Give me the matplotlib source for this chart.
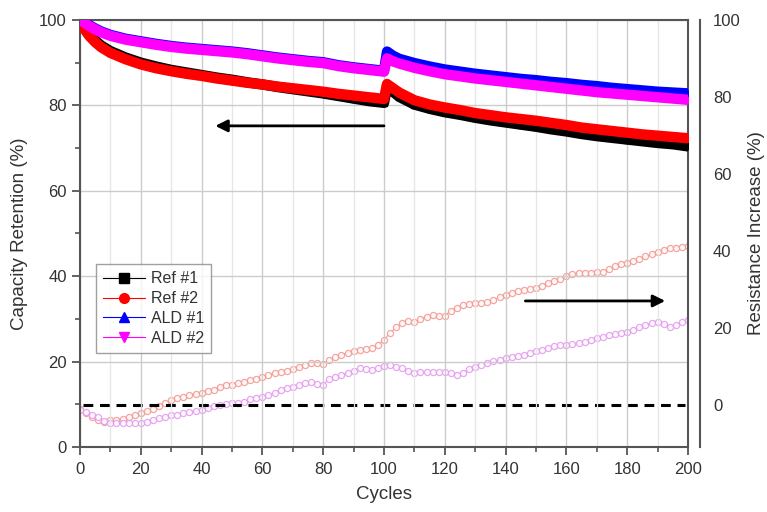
import matplotlib
matplotlib.use("Agg")
import matplotlib.pyplot as plt
from matplotlib.lines import Line2D
from matplotlib.ticker import MultipleLocator

plt.rcParams['font.family'] = ['Liberation Sans', 'DejaVu Sans']

# ---- capacity retention (left axis) ----
cap_cycles = [0, 1, 2, 3, 5, 7, 10, 15, 20, 25, 30, 35, 40, 45, 50, 55, 60, 65, 70,
              75, 80, 85, 90, 95, 100, 101, 103, 105, 110, 115, 120, 125, 130, 135,
              140, 145, 150, 155, 160, 165, 170, 175, 180, 185, 190, 195, 200]

ref1_cap = [100, 98.7, 97.6, 96.7, 95.2, 94.0, 92.7, 91.2, 90.0, 89.1, 88.3, 87.7,
            87.1, 86.5, 86.0, 85.4, 84.9, 84.3, 83.8, 83.3, 82.8, 82.2, 81.6, 81.0,
            80.6, 84.4, 83.2, 82.0, 80.2, 79.2, 78.4, 77.8, 77.1, 76.5, 76.0, 75.5,
            75.0, 74.4, 73.9, 73.3, 72.8, 72.4, 72.0, 71.6, 71.2, 70.9, 70.4]

ref2_cap = [100, 98.5, 97.3, 96.3, 94.8, 93.6, 92.3, 90.8, 89.6, 88.7, 88.0, 87.4,
            86.9, 86.3, 85.8, 85.3, 84.9, 84.4, 84.0, 83.6, 83.2, 82.7, 82.3, 81.9,
            81.5, 85.0, 84.0, 83.0, 81.2, 80.2, 79.5, 78.9, 78.2, 77.7, 77.2, 76.8,
            76.4, 75.9, 75.4, 74.8, 74.4, 74.0, 73.6, 73.2, 72.9, 72.6, 72.3]

ald1_cap = [100, 99.8, 99.3, 98.8, 98.0, 97.3, 96.5, 95.6, 95.0, 94.4, 93.9, 93.5,
            93.2, 92.9, 92.6, 92.2, 91.7, 91.2, 90.8, 90.4, 90.1, 89.4, 88.9, 88.5,
            88.1, 92.6, 91.6, 90.9, 89.9, 89.1, 88.4, 87.9, 87.4, 87.0, 86.6, 86.2,
            85.9, 85.5, 85.2, 84.8, 84.5, 84.1, 83.8, 83.5, 83.2, 83.0, 82.8]

ald2_cap = [100, 99.6, 99.1, 98.6, 97.8, 97.1, 96.3, 95.4, 94.8, 94.2, 93.7, 93.3,
            93.0, 92.7, 92.4, 92.0, 91.5, 91.0, 90.6, 90.2, 89.9, 89.2, 88.7, 88.3,
            87.9, 91.0, 90.3, 89.8, 88.8, 88.0, 87.3, 86.8, 86.3, 85.9, 85.5, 85.1,
            84.7, 84.3, 83.9, 83.5, 83.1, 82.8, 82.5, 82.2, 81.9, 81.6, 81.3]

# ---- resistance increase (right axis), every 2 cycles ----
res_cycles = list(range(0, 201, 2))

ref2_res = [-1.0, -2.0, -3.0, -4.0, -4.4, -4.0, -3.8, -3.6, -3.2, -2.6,
            -2.2, -1.6, -1.0, -0.2, 0.6, 1.2, 1.8, 2.2, 2.7, 2.9,
            3.1, 3.6, 4.0, 4.7, 5.2, 5.3, 5.6, 6.1, 6.5, 6.8,
            7.2, 7.8, 8.3, 8.5, 8.8, 9.4, 9.9, 10.5, 11.0, 10.8,
            10.6, 11.6, 12.4, 13.0, 13.6, 14.0, 14.3, 14.5, 14.8, 15.6,
            17.0, 18.7, 20.2, 21.4, 21.8, 21.6, 22.4, 22.9, 23.3, 23.0,
            23.2, 24.5, 25.3, 25.9, 26.2, 26.6, 26.5, 26.8, 27.2, 28.0,
            28.7, 29.2, 29.5, 29.8, 30.0, 30.5, 31.0, 31.7, 32.3, 32.8,
            33.4, 33.9, 34.2, 34.4, 34.4, 34.5, 34.6, 35.3, 36.1, 36.6,
            37.0, 37.4, 38.0, 38.6, 39.1, 39.7, 40.3, 40.8, 40.9, 41.0,
            41.2]

ald2_res = [-1.3, -1.8, -2.5, -3.2, -4.2, -4.7, -4.8, -4.7, -4.8, -4.7,
            -4.7, -4.4, -3.9, -3.5, -3.1, -2.7, -2.5, -2.2, -1.8, -1.5,
            -1.3, -0.8, -0.2, 0.0, 0.2, 0.4, 0.5, 0.8, 1.6, 1.9,
            2.2, 2.6, 3.0, 3.8, 4.4, 4.8, 5.2, 5.6, 6.0, 5.5,
            5.3, 6.8, 7.4, 7.8, 8.3, 8.9, 9.6, 9.3, 9.1, 9.6,
            10.2, 10.3, 10.0, 9.5, 8.8, 8.3, 8.6, 8.5, 8.6, 8.6,
            8.6, 8.4, 7.9, 8.4, 9.3, 9.8, 10.4, 10.9, 11.3, 11.8,
            12.2, 12.5, 12.8, 13.0, 13.5, 14.0, 14.4, 14.8, 15.2, 15.5,
            15.6, 15.8, 16.0, 16.3, 16.8, 17.3, 17.7, 18.1, 18.5, 18.8,
            19.0, 19.6, 20.3, 20.8, 21.2, 21.6, 21.0, 20.2, 20.8, 21.5,
            22.0]

legend_labels = ['Ref #1', 'Ref #2', 'ALD #1', 'ALD #2']
series_colors = ['black', '#ff0000', '#0000ff', '#ff00ff']
series_markers = ['s', 'o', '^', 'v']

text_color = '#333333'
spine_color = '#555555'

fig = plt.figure(figsize=(7.67, 5.12), dpi=100)
ax = fig.add_axes([0.1043, 0.127, 0.7927, 0.834])
ax2 = ax.twinx()

# resistance curves behind the capacity bands
ax2.plot(res_cycles, ref2_res, color='#f59a92', marker='o', ms=4.4,
         mfc='white', mec='#f59a92', mew=0.9, lw=0.8, alpha=0.9, zorder=2)
ax2.plot(res_cycles, ald2_res, color='#e59cf0', marker='o', ms=4.4,
         mfc='white', mec='#e59cf0', mew=0.9, lw=0.8, alpha=0.9, zorder=2)
ax2.axhline(0, xmin=0.005, xmax=0.995, color='black', lw=2.2,
            ls=(0, (3.2, 2.2)), zorder=3)

cap_series = [ref1_cap, ref2_cap, ald1_cap, ald2_cap]
ax.set_zorder(ax2.get_zorder() + 1)
ax.patch.set_visible(False)
for vals, col, mk in zip(cap_series, series_colors, series_markers):
    ax.plot(cap_cycles, vals, color=col, lw=7.5, marker=mk, ms=5,
            solid_capstyle='round', solid_joinstyle='round', zorder=4)

# arrows pointing to the axis each set of curves belongs to
ax.annotate('', xy=(44.5, 75.2), xytext=(100, 75.2),
            arrowprops=dict(arrowstyle='-|>', color='black', lw=2,
                            mutation_scale=18, shrinkA=0, shrinkB=0))
ax.annotate('', xy=(192.5, 34.2), xytext=(146.5, 34.2),
            arrowprops=dict(arrowstyle='-|>', color='black', lw=2,
                            mutation_scale=18, shrinkA=0, shrinkB=0))

# main axis formatting
ax.set_xlim(0, 200)
ax.set_ylim(0, 100)
ax.xaxis.set_major_locator(MultipleLocator(20))
ax.xaxis.set_minor_locator(MultipleLocator(10))
ax.yaxis.set_major_locator(MultipleLocator(20))
ax.yaxis.set_minor_locator(MultipleLocator(10))
ax.grid(which='major', color='#cccccc', lw=1.0)
ax.grid(which='minor', axis='x', color='#e6e6e6', lw=0.9)
ax.set_axisbelow(True)
ax.tick_params(which='major', direction='out', length=6, width=1.3,
               colors=spine_color, labelcolor=text_color, labelsize=12)
ax.tick_params(which='minor', direction='out', length=3.5, width=1.2,
               colors=spine_color)
ax.tick_params(axis='x', pad=5)
for s in ax.spines.values():
    s.set_color(spine_color)
    s.set_linewidth(1.5)
ax.set_xlabel('Cycles', fontsize=13.5, color=text_color, labelpad=6)
ax.set_ylabel('Capacity Retention (%)', fontsize=13.5, color=text_color,
              labelpad=8)

# secondary axis formatting
ax2.set_ylim(-10.9, 100)
ax2.yaxis.set_major_locator(MultipleLocator(20))
ax2.spines['right'].set_position(('outward', 9))
ax2.spines['right'].set_color(spine_color)
ax2.spines['right'].set_linewidth(1.5)
for side in ['left', 'top', 'bottom']:
    ax2.spines[side].set_visible(False)
ax2.tick_params(axis='y', length=0, pad=9, labelsize=12,
                labelcolor=text_color)
ax2.set_ylabel('Resistance Increase (%)', fontsize=13.5, color=text_color,
               labelpad=5)

# legend
handles = [Line2D([0], [0], color=c, lw=0.8, marker=m, ms=7, mec=c, mfc=c)
           for c, m in zip(series_colors, series_markers)]
leg = ax.legend(handles, legend_labels, loc='upper left',
                bbox_to_anchor=(0.026, 0.428), fontsize=11.5, frameon=True,
                fancybox=False, edgecolor='#888888', handlelength=2.6,
                handletextpad=0.4, borderpad=0.45, labelspacing=0.3,
                borderaxespad=0)
leg.get_frame().set_linewidth(1.0)
for t in leg.get_texts():
    t.set_color(text_color)

fig.savefig('out.png', dpi=100)
